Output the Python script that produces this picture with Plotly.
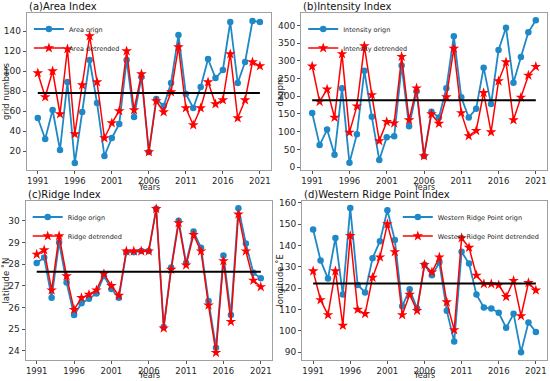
import plotly.graph_objects as go

years = list(range(1991, 2022))

area_origin = [53, 32, 61, 21, 89, 8, 59, 111, 68, 15, 33, 47, 111, 54, 94, 19,
               72, 65, 88, 136, 77, 63, 84, 112, 93, 101, 149, 88, 109, 150, 149]
area_detrended = [98, 74, 100, 57, 122, 37, 86, 135, 89, 33, 48, 60, 120, 61, 97, 19,
                  70, 59, 79, 124, 63, 46, 63, 89, 67, 71, 117, 53, 71, 109, 105]
area_mean = 78

intensity_origin = [153, 62, 106, 35, 223, 12, 93, 272, 142, 20, 84, 87, 287, 115, 214, 31,
                    156, 140, 223, 370, 197, 140, 165, 281, 178, 331, 394, 238, 311, 381, 415]
intensity_detrended = [285, 185, 220, 140, 320, 98, 172, 342, 204, 74, 128, 124, 312, 133, 223, 31,
                       150, 123, 198, 335, 153, 88, 103, 210, 99, 243, 297, 133, 197, 259, 284]
intensity_mean = 189

ridge_origin = [28.05, 28.3, 26.45, 29.0, 27.15, 25.65, 26.2, 26.4, 26.65, 27.45, 26.85, 26.45,
                28.55, 28.55, 28.6, 28.6, 30.55, 25.1, 27.85, 30.0, 28.05, 29.5, 28.75, 26.3,
                24.15, 28.4, 25.65, 30.58, 28.95, 27.6, 27.35]
ridge_detrended = [28.45, 28.65, 26.8, 29.3, 27.45, 25.9, 26.45, 26.6, 26.8, 27.55, 27.0, 26.55,
                   28.6, 28.6, 28.6, 28.6, 30.55, 25.05, 27.75, 29.9, 27.95, 29.35, 28.6, 26.1,
                   23.92, 28.15, 25.35, 30.3, 28.6, 27.25, 26.95]
ridge_mean = 27.65

west_origin = [147.5, 133, 124.5, 143.5, 117, 157.5, 121.5, 118, 134, 142, 156.5, 142.5,
               111.5, 119.5, 110.5, 131, 126, 132, 109.5, 95, 137, 131.5, 117, 111,
               110.5, 108.5, 101.5, 108, 90, 104, 99.5]
west_detrended = [128, 114.5, 107.5, 128, 102.5, 144.5, 110, 108, 125, 134.5, 150, 137,
                  107.5, 117, 109.5, 131, 127.5, 134.5, 113.5, 100.5, 143.5, 139, 126, 122,
                  122, 121.5, 116, 123.5, 107, 122.5, 119]
west_mean = 122.2

x_ticks = [1991, 1996, 2001, 2006, 2011, 2016, 2021]

W, H = 550, 381
panels = [
    dict(title="(a)Area Index", name="Area", o=area_origin, d=area_detrended, m=area_mean,
         ylab="grid numbers", yr=[1, 158], yt=[20, 40, 60, 80, 100, 120, 140],
         px=[26.7, 271], py=[13, 170], ylx=5.5, xly=187.5, leg="left"),
    dict(title="(b)Intensity Index", name="Intensity", o=intensity_origin, d=intensity_detrended,
         m=intensity_mean, ylab="dagpm", yr=[-8.4, 435.6], yt=[0, 50, 100, 150, 200, 250, 300, 350, 400],
         px=[301, 547], py=[13, 170], ylx=279, xly=187.5, leg="left"),
    dict(title="(c)Ridge Index", name="Ridge", o=ridge_origin, d=ridge_detrended, m=ridge_mean,
         ylab="latitude \u02daN", yr=[23.58, 30.91], yt=[24, 25, 26, 27, 28, 29, 30],
         px=[25.5, 272], py=[201, 360], ylx=5, xly=375.5, leg="left"),
    dict(title="(d)Western Ridge Point Index", name="Western Ridge Point", o=west_origin, d=west_detrended,
         m=west_mean, ylab="longitude \u02daE", yr=[86.4, 160.8], yt=[90, 100, 110, 120, 130, 140, 150, 160],
         px=[302, 547], py=[201, 360], ylx=279, xly=375.5, leg="right"),
]

BLUE = "#1f88c6"
RED = "#ff0000"
FONT = "DejaVu Sans"
TXT = "#262626"

fig = go.Figure()
layout = dict(
    width=W, height=H,
    margin=dict(l=0, r=0, t=0, b=0, autoexpand=False),
    paper_bgcolor="white", plot_bgcolor="white",
    font=dict(family=FONT, color=TXT, size=8),
    showlegend=True,
    template="none",
)
annotations = []

for i, p in enumerate(panels):
    k = "" if i == 0 else str(i + 1)
    xa, ya = "x" + k, "y" + k
    legname = "legend" + k
    xd = [p["px"][0] / W, p["px"][1] / W]
    yd = [1 - p["py"][1] / H, 1 - p["py"][0] / H]
    fig.add_trace(go.Scatter(x=years, y=p["o"], mode="lines+markers", name=p["name"] + " orign",
                             line=dict(color=BLUE, width=1.8), marker=dict(symbol="circle", size=6.5, color=BLUE),
                             xaxis=xa, yaxis=ya, legend=legname))
    fig.add_trace(go.Scatter(x=years, y=p["d"], mode="lines+markers", name=p["name"] + " detrended",
                             line=dict(color=RED, width=1.5), marker=dict(symbol="star", size=8, color=RED),
                             xaxis=xa, yaxis=ya, legend=legname))
    fig.add_trace(go.Scatter(x=[years[0], years[-1]], y=[p["m"], p["m"]], mode="lines",
                             line=dict(color="black", width=2), showlegend=False,
                             xaxis=xa, yaxis=ya, hoverinfo="skip"))
    axcommon = dict(showline=True, mirror=True, linecolor="#a0a0a0", linewidth=1, automargin=False,
                    ticks="outside", ticklen=3, tickwidth=1, tickcolor="#555", showgrid=False, zeroline=False,
                    tickfont=dict(size=9, family=FONT, color=TXT))
    layout["xaxis" + k] = dict(axcommon, domain=xd, range=[1989.5, 2022.5], tickvals=x_ticks, anchor=ya,
                               ticklen=2.5, tickfont=dict(size=8.5, family=FONT, color=TXT))
    layout["yaxis" + k] = dict(axcommon, domain=yd, range=p["yr"], tickvals=p["yt"], anchor=xa)
    if p["leg"] == "left":
        lx, xanc = xd[0] + 0.004, "left"
    else:
        lx, xanc = xd[1] - 0.004, "right"
    layout[legname] = dict(x=lx, xanchor=xanc, y=yd[1] - 0.004, yanchor="top",
                           bgcolor="rgba(255,255,255,0)", font=dict(size=6.5, family=FONT, color=TXT),
                           tracegroupgap=0, itemwidth=30)
    # panel title
    annotations.append(dict(text=p["title"], x=xd[0], y=yd[1], xref="paper", yref="paper",
                            xanchor="left", yanchor="bottom", showarrow=False,
                            font=dict(size=10, family=FONT, color="#111"), yshift=-1))
    # y-axis title
    annotations.append(dict(text=p["ylab"], x=p["ylx"] / W, y=(yd[0] + yd[1]) / 2, xref="paper", yref="paper",
                            xanchor="center", yanchor="middle", textangle=-90, showarrow=False,
                            font=dict(size=8.5, family=FONT, color=TXT)))
    # x-axis title
    annotations.append(dict(text="Years", x=(xd[0] + xd[1]) / 2, y=1 - p["xly"] / H, xref="paper", yref="paper",
                            xanchor="center", yanchor="middle", showarrow=False,
                            font=dict(size=8, family=FONT, color=TXT)))

layout["annotations"] = annotations
fig.update_layout(**layout)
fig.write_html("out.html", config={"displayModeBar": False},
               post_script="document.body.style.margin='0';")
